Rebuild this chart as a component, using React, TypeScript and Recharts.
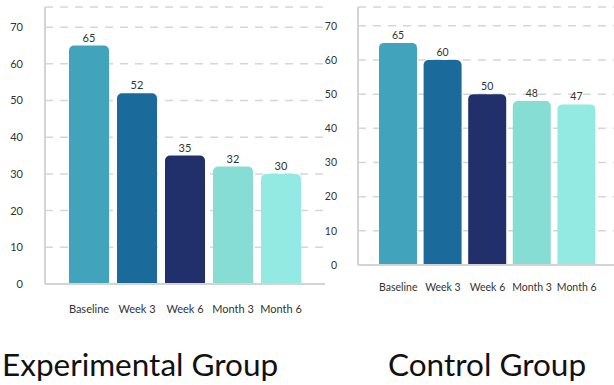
import React from 'react';
import { BarChart, Bar, XAxis, YAxis, CartesianGrid, LabelList, Cell } from 'recharts';

const stages = ['Baseline', 'Week 3', 'Week 6', 'Month 3', 'Month 6'];
const experimentalScores = [65, 52, 35, 32, 30];
const controlScores = [65, 60, 50, 48, 47];
const yTicks = [0, 10, 20, 30, 40, 50, 60, 70];
const stageColors = ['#42a4bc', '#1a6a9b', '#21306a', '#86ddd4', '#92eae2'];

const FONT = 'Lato, "Source Sans Pro", "Noto Sans", sans-serif';
const AXIS_COLOR = '#d4d4d4';

const toRows = (values: number[]) => stages.map((stage, i) => ({ stage, value: values[i] }));

interface PanelProps {
  values: number[];
  width: number;
  height: number;
  xAxisHeight: number;
  yAxisWidth: number;
  padLeft: number;
  padRight: number;
  barSize: number;
  fontSize: number;
  tickGap: number;
  xTickMargin: number;
}

function GroupPanel(p: PanelProps) {
  const data = toRows(p.values);
  const tickStyle = { fontSize: p.fontSize, fill: '#333', fontFamily: FONT };
  return (
    <BarChart width={p.width} height={p.height} data={data} margin={{ top: 7, right: 0, bottom: 0, left: 0 }}>
      <CartesianGrid vertical={false} stroke="#d6d6d6" strokeWidth={1.5} strokeDasharray="8 7" />
      <XAxis
        dataKey="stage"
        axisLine={{ stroke: AXIS_COLOR, strokeWidth: 2 }}
        tickLine={false}
        tickMargin={p.xTickMargin}
        padding={{ left: p.padLeft, right: p.padRight }}
        tick={tickStyle}
        interval={0}
        height={p.xAxisHeight}
      />
      <YAxis
        width={p.yAxisWidth}
        domain={[0, 75.5]}
        ticks={yTicks}
        axisLine={{ stroke: AXIS_COLOR, strokeWidth: 2 }}
        tickLine={false}
        tickMargin={p.tickGap}
        tick={tickStyle}
      />
      <Bar dataKey="value" barSize={p.barSize} radius={[5, 5, 0, 0]} isAnimationActive={false}>
        {data.map((d, i) => (
          <Cell key={d.stage} fill={stageColors[i]} />
        ))}
        <LabelList dataKey="value" position="top" offset={4} style={tickStyle} />
      </Bar>
    </BarChart>
  );
}

const titleStyle: React.CSSProperties = {
  position: 'absolute',
  top: 345,
  fontSize: 31.5,
  color: '#111',
  whiteSpace: 'nowrap',
  lineHeight: '38px',
};

export default function App() {
  return (
    <div style={{ position: 'absolute', left: 0, top: 0, width: 614, height: 385, overflow: 'hidden', background: '#fff', fontFamily: FONT }}>
      <div style={{ position: 'absolute', left: 0, top: 0 }}>
        <GroupPanel
          values={experimentalScores}
          width={325}
          height={330}
          xAxisHeight={46}
          yAxisWidth={45}
          padLeft={20}
          padRight={20}
          barSize={40}
          fontSize={11}
          tickGap={16}
          xTickMargin={15}
        />
      </div>
      <div style={{ position: 'absolute', left: 320, top: 0 }}>
        <GroupPanel
          values={controlScores}
          width={294}
          height={310}
          xAxisHeight={45}
          yAxisWidth={38}
          padLeft={18}
          padRight={15}
          barSize={38}
          fontSize={10.5}
          tickGap={15}
          xTickMargin={13}
        />
      </div>
      <div style={{ ...titleStyle, left: 2 }}>Experimental Group</div>
      <div style={{ ...titleStyle, left: 388 }}>Control Group</div>
    </div>
  );
}
